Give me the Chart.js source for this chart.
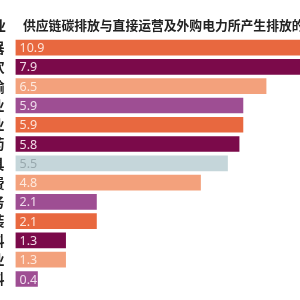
<!DOCTYPE html>
<html>
<head>
<meta charset="utf-8">
<script src="https://cdn.jsdelivr.net/npm/chart.js@4"></script>
<style>
  body { margin: 0; background: #fff; }
  #wrap { position: relative; width: 300px; height: 300px; overflow: hidden; }
  #head { position: absolute; top: 15px; left: 0; width: 300px; height: 18px; white-space: nowrap;
    font: bold 12.8px "Noto Sans CJK SC", sans-serif; color: #222; }
  #head .col { position: absolute; left: -22px; top: 0; font-size: 14px; }
  #head .title { position: absolute; left: 23px; top: 0; }
  canvas { position: absolute; left: 0; top: 0; }
</style>
</head>
<body>
<div id="wrap">
  <canvas id="chart" width="300" height="300"></canvas>
  <div id="head"><span class="col">行业</span><span class="title">供应链碳排放与直接运营及外购电力所产生排放的比率</span></div>
</div>
<script>
// industries (left labels are cut off in the source picture)
const industries = ["电子电器", "餐饮", "交通运输", "制造业", "建筑业", "生物医药", "办公家具",
  "日用消费", "金融服务", "纺织服装", "原材料", "农业", "化石燃料"];
const ratios = [10.9, 7.9, 6.5, 5.9, 5.9, 5.8, 5.5, 4.8, 2.1, 2.1, 1.3, 1.3, 0.4];
const barColors = ["#e8683f", "#7b0a4a", "#f3a17c", "#9e4e93", "#e8683f", "#7b0a4a", "#c5d6da",
  "#f3a17c", "#9e4e93", "#e8683f", "#7b0a4a", "#f3a17c", "#9e4e93"];
const labelColors = ["#fde4d8", "#f1dbe6", "#fde9de", "#efdcec", "#fde4d8", "#f1dbe6", "#98a8ad",
  "#fde9de", "#efdcec", "#fde4d8", "#f1dbe6", "#fde9de", "#efdcec"];

// value text inside each bar
const valueLabels = {
  id: "valueLabels",
  afterDatasetsDraw(chart) {
    const ctx = chart.ctx;
    const meta = chart.getDatasetMeta(0);
    ctx.save();
    ctx.font = "12.5px 'Noto Sans', sans-serif";
    ctx.textBaseline = "middle";
    ctx.textAlign = "left";
    meta.data.forEach((bar, i) => {
      ctx.fillStyle = labelColors[i];
      ctx.fillText(ratios[i].toFixed(1), bar.base + 4, bar.y + 1);
    });
    ctx.restore();
  }
};

new Chart(document.getElementById("chart"), {
  type: "bar",
  data: {
    labels: industries,
    datasets: [{
      data: ratios,
      backgroundColor: barColors,
      barThickness: 15,
      minBarLength: 22
    }]
  },
  options: {
    indexAxis: "y",
    responsive: false,
    animation: false,
    layout: { padding: { top: 38, bottom: 10, left: 0, right: 0 } },
    plugins: { legend: { display: false }, tooltip: { enabled: false } },
    scales: {
      x: { display: false, min: 0, max: 7.38 },
      y: {
        grid: { display: false },
        border: { display: false },
        ticks: {
          autoSkip: false,
          padding: 3,
          color: "#222",
          font: { family: "Noto Sans CJK SC", size: 14, weight: "bold" }
        },
        afterFit: (scale) => { scale.width = 15.5; }
      }
    }
  },
  plugins: [valueLabels]
});
</script>
</body>
</html>
